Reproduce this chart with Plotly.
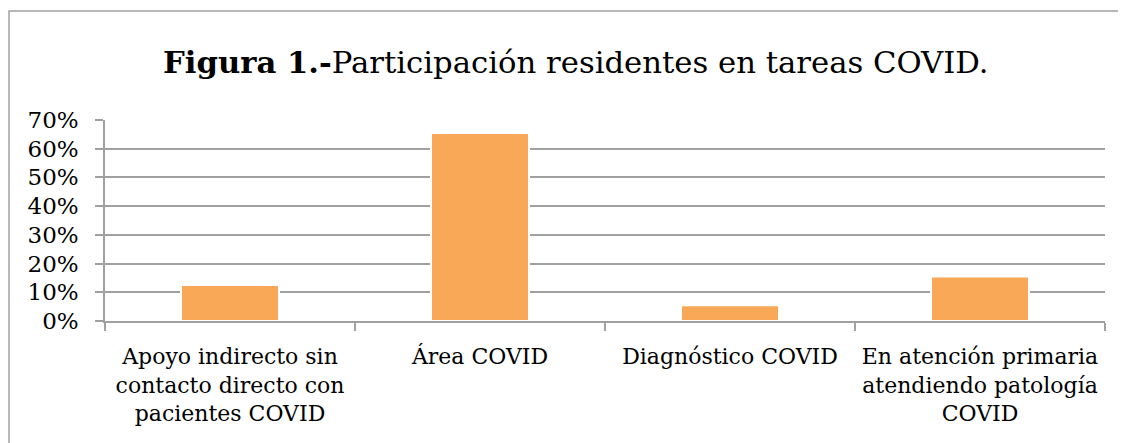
import plotly.graph_objects as go

categories = [
    "Apoyo indirecto sin<br>contacto directo con<br>pacientes COVID",
    "Área COVID",
    "Diagnóstico COVID",
    "En atención primaria<br>atendiendo patología<br>COVID",
]
values = [0.125, 0.655, 0.055, 0.155]
y_ticks = [0, 0.1, 0.2, 0.3, 0.4, 0.5, 0.6, 0.7]

FONT = "DejaVu Serif"
GRID = "#a0a0a0"

OFF = 8  # page body margin
W, H = 1126, 443
L, T = 105 - OFF, 120 - OFF
pw, ph = 1000, 201
R = W - L - pw
B = H - T - ph

def px_x(p):
    return (p - OFF - L) / pw

def px_y(p):
    return (T + ph - (p - OFF)) / ph

fig = go.Figure(
    go.Bar(
        x=categories,
        y=values,
        marker=dict(color="#F9A857", line=dict(color="white", width=2)),
    )
)

fig.update_layout(
    width=W,
    height=H,
    margin=dict(l=L, r=R, t=T, b=B),
    paper_bgcolor="white",
    plot_bgcolor="white",
    bargap=0.608,
    showlegend=False,
    font=dict(family=FONT, color="black"),
)

fig.update_xaxes(
    type="category",
    showline=True,
    linecolor=GRID,
    linewidth=1.5,
    ticks="outside",
    tickson="boundaries",
    ticklen=8,
    tickcolor=GRID,
    tickwidth=1.5,
    tickfont=dict(size=22, family=FONT),
    ticklabelstandoff=15,
    showgrid=False,
)

fig.update_yaxes(
    range=[0, 0.7],
    tickvals=y_ticks,
    tickformat=".0%",
    showgrid=True,
    gridcolor=GRID,
    gridwidth=1.5,
    showline=True,
    linecolor=GRID,
    linewidth=1.5,
    ticks="outside",
    ticklen=8,
    tickcolor=GRID,
    tickwidth=1.5,
    tickfont=dict(size=23, family=FONT),
    ticklabelstandoff=12,
    zeroline=False,
)

fig.add_annotation(
    text="<b>Figura 1.-</b>Participación residentes en tareas COVID.",
    xref="paper", yref="paper",
    x=px_x(576), y=px_y(62),
    xanchor="center", yanchor="middle",
    showarrow=False,
    font=dict(size=30.7, family=FONT, color="black"),
)

fig.add_shape(
    type="rect",
    xref="paper", yref="paper",
    x0=px_x(9), x1=px_x(1140),
    y0=px_y(455), y1=px_y(11),
    line=dict(color=GRID, width=1.5),
    fillcolor="rgba(0,0,0,0)",
    layer="below",
)

fig.write_html("out.html")
